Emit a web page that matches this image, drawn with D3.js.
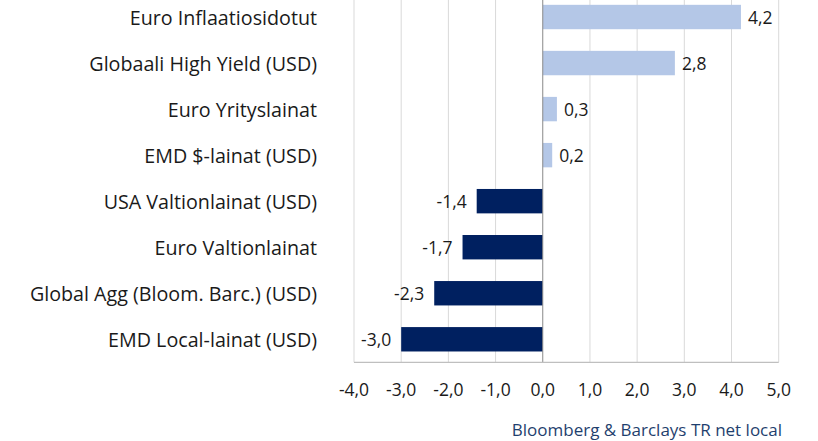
<!DOCTYPE html>
<html><head><meta charset="utf-8">
<script src="https://cdn.jsdelivr.net/npm/d3@7"></script>
<style>body{margin:0;background:#fff}svg{display:block}text{font-family:"Open Sans","Noto Sans",sans-serif}</style>
</head><body><svg id="c" width="818" height="441"></svg>
<script>
const categories = ["Euro Inflaatiosidotut","Globaali High Yield (USD)","Euro Yrityslainat","EMD $-lainat (USD)","USA Valtionlainat (USD)","Euro Valtionlainat","Global Agg (Bloom. Barc.) (USD)","EMD Local-lainat (USD)"];
const values = [4.2, 2.8, 0.3, 0.2, -1.4, -1.7, -2.3, -3.0];
const tickValues = [-4,-3,-2,-1,0,1,2,3,4,5];
const sourceNote = "Bloomberg & Barclays TR net local";

const svg = d3.select("#c");
const fmt = v => d3.format(".1f")(v).replace(".", ",").replace("−","-");
const x = d3.scaleLinear().domain([-4,5]).range([354,778.7]);
const y = d3.scaleBand().domain(categories).range([-6,362.3]).paddingInner(0.47).paddingOuter(0.235);

// gridlines
svg.append("g").selectAll("line").data(tickValues.filter(d=>d!==0)).join("line")
  .attr("x1",d=>x(d)).attr("x2",d=>x(d)).attr("y1",0).attr("y2",362.3)
  .attr("stroke","#d9d9d9").attr("stroke-width",1);

// bars
svg.append("g").selectAll("rect").data(values).join("rect")
  .attr("x",(d)=>x(Math.min(0,d))).attr("width",d=>Math.abs(x(d)-x(0)))
  .attr("y",(d,i)=>y(categories[i])).attr("height",y.bandwidth())
  .attr("fill",d=>d>=0?"#b4c7e7":"#002060");

// zero line
svg.append("line").attr("x1",x(0)).attr("x2",x(0)).attr("y1",0).attr("y2",362.3).attr("stroke","#898989").attr("stroke-width",1);
// bottom axis
svg.append("line").attr("x1",x(-4)).attr("x2",x(5)).attr("y1",362.3).attr("y2",362.3).attr("stroke","#bfbfbf").attr("stroke-width",1.3);

// value labels
svg.append("g").selectAll("text").data(values).join("text")
  .attr("x",d=>d>=0? x(d)+7 : x(d)-10)
  .attr("y",(d,i)=>y(categories[i])+y.bandwidth()/2+1)
  .attr("dy","0.35em").attr("text-anchor",d=>d>=0?"start":"end")
  .attr("font-size",17.5).attr("fill","#1a1a1a").text(d=>fmt(d));

// category labels
svg.append("g").selectAll("text").data(categories).join("text")
  .attr("x",317).attr("y",d=>y(d)+y.bandwidth()/2+1).attr("dy","0.35em")
  .attr("text-anchor","end").attr("font-size",19.7).attr("fill","#1a1a1a").text(d=>d);

// tick labels
svg.append("g").selectAll("text").data(tickValues).join("text")
  .attr("x",d=>x(d)).attr("y",390).attr("dy","0.35em").attr("text-anchor","middle")
  .attr("font-size",17.5).attr("fill","#1a1a1a").text(d=>fmt(d));

svg.append("text").attr("x",782).attr("y",430).attr("dy","0.35em").attr("text-anchor","end")
  .attr("font-size",17).attr("fill","#1f3f6e").text(sourceNote);
</script></body></html>
